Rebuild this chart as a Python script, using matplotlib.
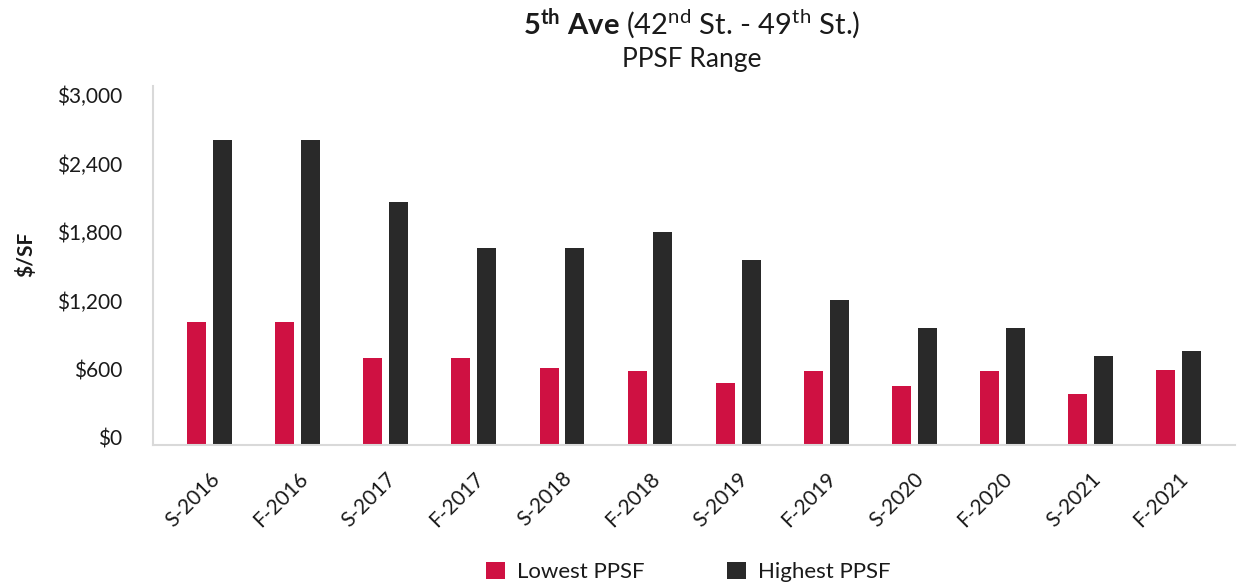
import matplotlib
matplotlib.use("Agg")
import matplotlib.pyplot as plt
import numpy as np
from matplotlib.ticker import FuncFormatter, FixedLocator
from matplotlib.transforms import ScaledTranslation

# semi-annual PPSF range, 5th Ave (42nd - 49th St.)
periods = ["S-2016", "F-2016", "S-2017", "F-2017", "S-2018", "F-2018",
           "S-2019", "F-2019", "S-2020", "F-2020", "S-2021", "F-2021"]
lowest = [1075, 1075, 760, 760, 675, 650, 540, 650, 515, 650, 445, 655]
highest = [2670, 2670, 2125, 1725, 1725, 1865, 1620, 1270, 1025, 1025, 780, 820]
yticks = [0, 600, 1200, 1800, 2400, 3000]

RED, DARK, AXIS = "#CF1142", "#292929", "#D9D9D9"

plt.rcParams.update({
    "font.family": ["Lato", "DejaVu Sans"],
    "mathtext.fontset": "custom",
    "mathtext.rm": "Lato",
    "mathtext.bf": "Lato:bold",
    "text.color": "#1A1A1A",
})

fig = plt.figure(figsize=(12.39, 5.84), dpi=100)
ax = fig.add_axes([152.5 / 1239, 1 - 445 / 584, (1234.7 - 152.5) / 1239, (445 - 86) / 584])

x = np.arange(len(periods))
w, off = 0.216, 0.147
ax.bar(x - off, lowest, w, color=RED, label="Lowest PPSF", zorder=2)
ax.bar(x + off, highest, w, color=DARK, label="Highest PPSF", zorder=2)

ax.set_xlim(-0.65, 11.64)
ax.set_ylim(0, 3140)
ax.yaxis.set_major_locator(FixedLocator(yticks))
ax.yaxis.set_major_formatter(FuncFormatter(lambda v, p: f"${v:,.0f}"))
ax.tick_params(axis="y", length=0, pad=22, labelsize=15, labelcolor="#1A1A1A")
for lab in ax.get_yticklabels():
    lab.set_transform(lab.get_transform() + ScaledTranslation(0, 7 / 100, fig.dpi_scale_trans))

ax.set_xticks(x)
ax.set_xticklabels(periods, rotation=45, ha="right", va="center", rotation_mode="anchor")
ax.tick_params(axis="x", length=0, pad=22, labelsize=15, labelcolor="#1A1A1A")
for lab in ax.get_xticklabels():
    lab.set_transform(lab.get_transform() + ScaledTranslation(7 / 100, 0, fig.dpi_scale_trans))

for sp in ["top", "right"]:
    ax.spines[sp].set_visible(False)
for sp in ["left", "bottom"]:
    ax.spines[sp].set_color(AXIS)
    ax.spines[sp].set_linewidth(1.5)

fig.text(26 / 1239, 1 - 254 / 584, "$/SF", rotation=90, ha="center", va="center",
         fontsize=15, fontweight="bold")

fig.text(692 / 1239, 1 - 24 / 584,
         r"$\mathbf{5^{th}}$ $\mathbf{Ave}$ (42$^{\mathrm{nd}}$ St. - 49$^{\mathrm{th}}$ St.)",
         ha="center", va="center", fontsize=21)
fig.text(692 / 1239, 1 - 59 / 584, "PPSF Range", ha="center", va="center", fontsize=19)

fig.legend(loc="center", bbox_to_anchor=(688 / 1239, 1 - 572 / 584), ncol=2, frameon=False,
           fontsize=16, handlelength=0.85, handleheight=0.85, handletextpad=0.55,
           columnspacing=3.7, borderpad=0)

fig.savefig("out.png", dpi=100)
